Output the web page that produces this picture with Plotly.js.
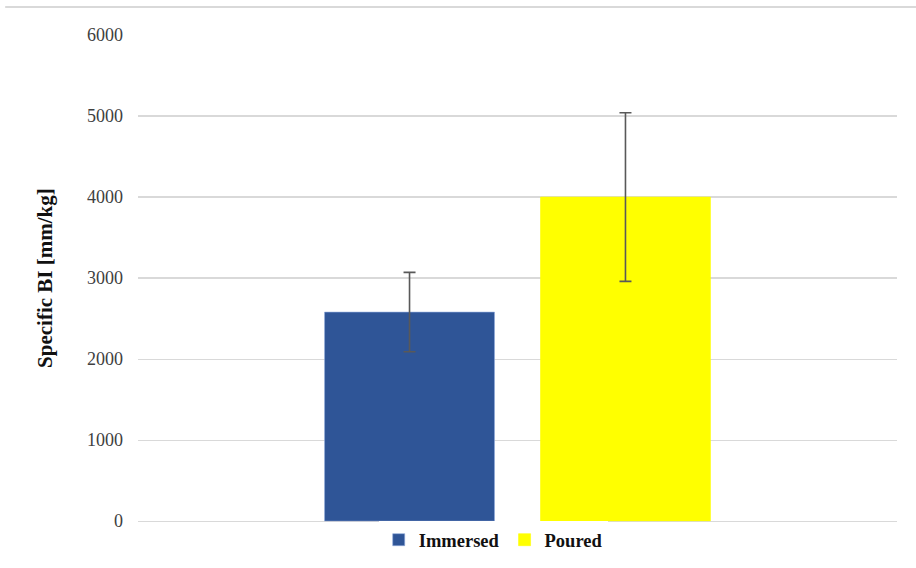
<!DOCTYPE html>
<html>
<head>
<meta charset="utf-8">
<script src="https://cdn.plot.ly/plotly-3.0.1.min.js"></script>
<style>html,body{margin:0;padding:0;background:#fff;}#chart{width:916px;height:568px;}</style>
</head>
<body>
<div id="chart"></div>
<script>
const seriesNames = ['Immersed', 'Poured'];
const seriesValues = [2580, 4000];
const seriesErrors = [490, 1040];
const seriesColors = ['#2f5597', '#ffff00'];
const yTicks = [0, 1000, 2000, 3000, 4000, 5000, 6000];
const yTitle = 'Specific BI [mm/kg]';

const traces = seriesNames.map((name, i) => ({
  type: 'bar',
  name: name,
  x: [''],
  y: [seriesValues[i]],
  marker: { color: seriesColors[i], line: { color: i === 0 ? '#8faadc' : seriesColors[i], width: 0.6 } },
  error_y: { type: 'data', array: [seriesErrors[i]], visible: true, color: '#595959', thickness: 1.6, width: 6 }
}));

const layout = {
  width: 916, height: 568,
  margin: { l: 138, r: 19, t: 35, b: 46 },
  paper_bgcolor: '#fff', plot_bgcolor: '#fff',
  barmode: 'group', bargap: 0.431, bargroupgap: 0.213,
  font: { family: '"Liberation Serif", "Times New Roman", serif', color: '#404040' },
  xaxis: { showticklabels: false, showgrid: false, zeroline: false, showline: false, ticks: '' },
  yaxis: {
    range: [0, 6000], tickvals: yTicks, ticktext: yTicks.map(String),
    gridcolor: '#d9d9d9', gridwidth: 1.2, zeroline: true, zerolinecolor: '#d9d9d9', zerolinewidth: 1.2,
    showline: false, ticks: '', ticklabelstandoff: 14,
    tickfont: { size: 18, color: '#404040', family: '"Liberation Serif", serif' },
    title: { text: yTitle, font: { size: 21, color: '#111', family: '"Liberation Serif", serif', weight: 'bold' }, standoff: 28 }
  },
  showlegend: true,
  legend: {
    orientation: 'h', x: 0.468, xanchor: 'center', xref: 'paper',
    yref: 'container', y: 0.049, yanchor: 'middle',
    font: { size: 18.5, color: '#111', family: '"Liberation Serif", serif', weight: 'bold' },
    itemwidth: 30, tracegroupgap: 0, itemclick: false
  },
  shapes: [{
    type: 'line', xref: 'paper', yref: 'paper', x0: -0.175, x1: 1.025, y0: 1.0575, y1: 1.0575,
    line: { color: '#d9d9d9', width: 2 }
  }]
};

Plotly.newPlot('chart', traces, layout, { displayModeBar: false, staticPlot: true });
</script>
</body>
</html>
